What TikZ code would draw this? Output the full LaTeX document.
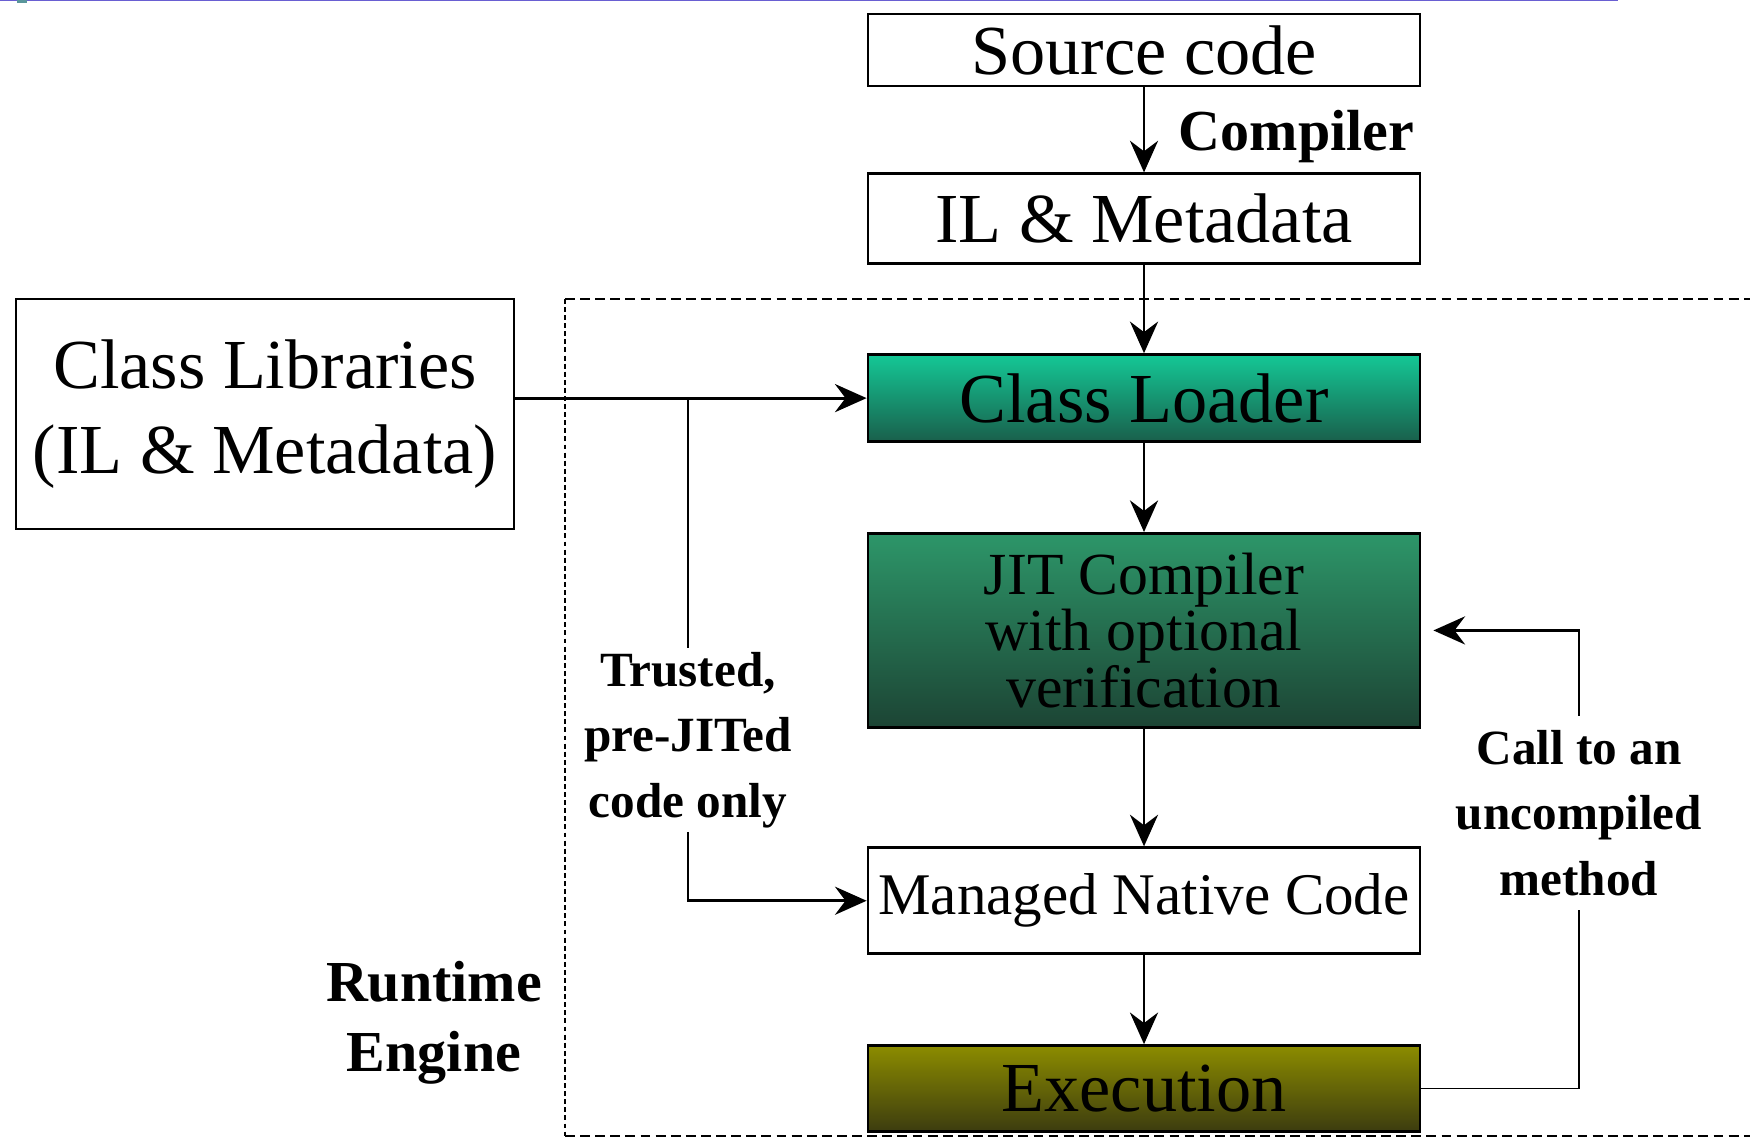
\documentclass[tikz,border=0pt]{standalone}
\usepackage{fontspec}
\setmainfont{Liberation Serif}
\usetikzlibrary{shapes.geometric, arrows.meta, positioning, fit}
\definecolor{loadtop}{RGB}{20,200,150}
\definecolor{loadbot}{RGB}{25,95,75}
\definecolor{jittop}{RGB}{45,150,105}
\definecolor{jitbot}{RGB}{28,68,52}
\definecolor{exectop}{RGB}{140,140,0}
\definecolor{execbot}{RGB}{60,60,15}
\definecolor{slidebar}{RGB}{105,95,210}
\definecolor{slidemark}{RGB}{90,150,155}
\tikzstyle{stepbox} = [rectangle, minimum width=5.52cm, inner sep=0pt, text centered, draw=black, line width=0.8pt, font=\fontsize{20}{22}\selectfont]
\tikzstyle{loaderbox} = [stepbox, top color=loadtop, bottom color=loadbot]
\tikzstyle{jitbox} = [stepbox, top color=jittop, bottom color=jitbot, align=center, font=\fontsize{17}{16}\selectfont]
\tikzstyle{execbox} = [stepbox, top color=exectop, bottom color=execbot]
\tikzstyle{note} = [inner sep=1pt, align=center, font=\bfseries\fontsize{14}{18.6}\selectfont]
\tikzstyle{tag} = [inner sep=1pt, align=center, font=\bfseries\fontsize{16.5}{20}\selectfont]
\tikzstyle{phase} = [line width=0.6pt, dash pattern=on 2.8pt off 1.5pt]
\tikzstyle{arrow} = [line width=0.8pt,->,>={Stealth[length=9pt,width=8pt,inset=3pt]}]

\begin{document}
\begin{tikzpicture}
\useasboundingbox (0,0) rectangle (17.5,-11.38);
% slide rule along the top edge
\fill[slidebar] (0,0) rectangle (16.18,-0.015);
\fill[slidemark] (0.17,0) rectangle (0.27,-0.03);

\node (source) [stepbox, minimum height=0.72cm] at (11.44,-0.50) {Source code};
\node (il) [stepbox, minimum height=0.9cm, below=0.85cm of source] {IL \& Metadata};

\draw [arrow] (source) -- node[tag, anchor=west, xshift=0.3cm, yshift=-0.07cm] {Compiler} (il);

\node (loader) [loaderbox, minimum height=0.87cm, below=0.88cm of il] {Class Loader};
\node (jit) [jitbox, minimum height=1.94cm, below=0.89cm of loader] {JIT Compiler\\with optional\\verification};

\draw [arrow] (il) -- (loader);
\draw [arrow] (loader) -- (jit);

\node (native) [stepbox, minimum height=1.06cm, below=1.175cm of jit, font=\fontsize{16.8}{18}\selectfont] {Managed Native Code};
\node (exec) [execbox, minimum height=0.86cm, below=0.89cm of native] {Execution};

\draw [arrow] (jit) -- (native);
\draw [arrow] (native) -- (exec);

\node (libs) [stepbox, minimum width=4.98cm, minimum height=2.3cm, align=center, font=\fontsize{20}{24}\selectfont] at (2.65,-4.14) {Class Libraries\\(IL \& Metadata)};

\draw [arrow] (libs.east |- loader) -- (loader);

\node (trusted) [note] at (6.88,-7.40) {Trusted,\\pre-JITed\\code only};
\coordinate (split) at (trusted |- loader);

\draw (split) -- (trusted);
\draw [arrow] (trusted) |- (native);

\node (call) [note, inner sep=4pt] at (15.79,-8.13) {Call to an\\uncompiled\\method};

\draw (exec) -| (call);
\draw [arrow, shorten >=0.12cm] (call) |- (jit);

\node (runtime) [tag] at (4.34,-10.23) {Runtime\\Engine};

% runtime engine frame, open to the right
\draw [phase] (5.65,-2.99) -- (17.6,-2.99);
\draw [phase] (5.65,-11.36) -- (17.6,-11.36);
\draw [phase, dash pattern=on 1.4pt off 0.9pt] (5.65,-2.99) -- (5.65,-11.36);

\end{tikzpicture}
\end{document}
